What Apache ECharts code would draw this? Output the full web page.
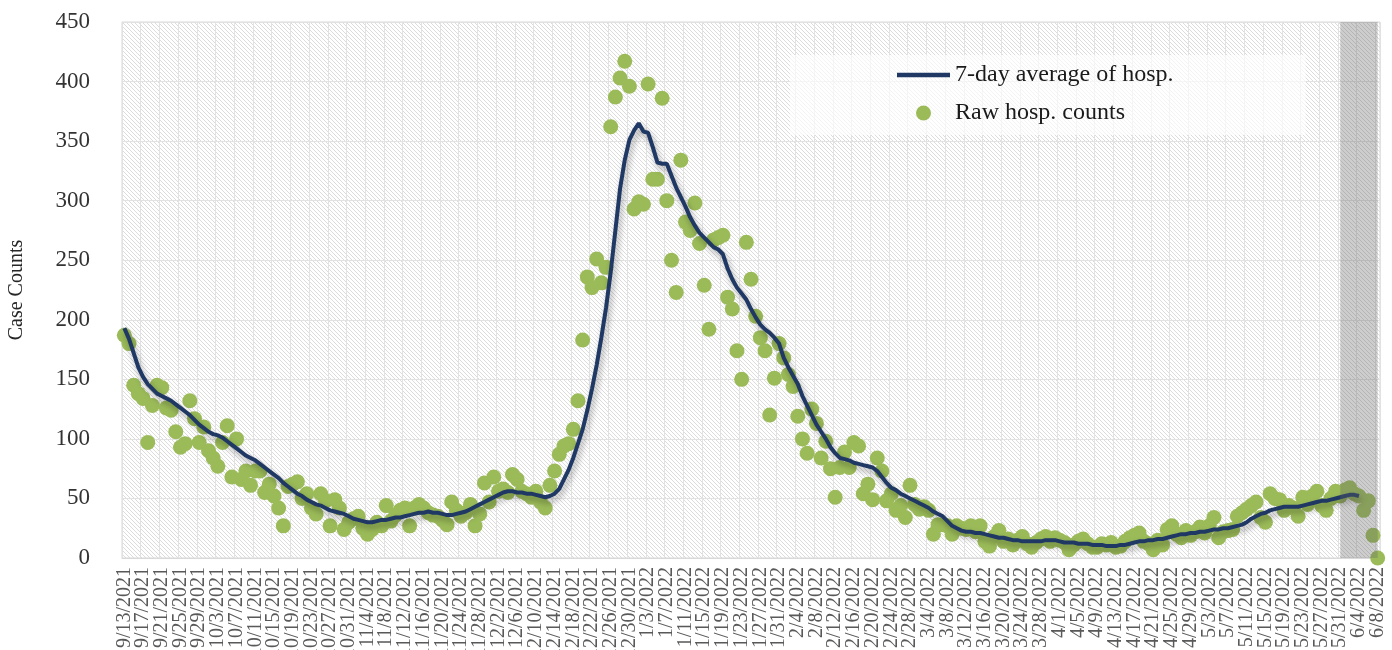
<!DOCTYPE html>
<html>
<head>
<meta charset="utf-8">
<script src="https://cdn.jsdelivr.net/npm/echarts@6/dist/echarts.min.js"></script>
<style>
  html, body { margin: 0; padding: 0; background: #fff; }
  #chart { width: 1392px; height: 650px; }
</style>
</head>
<body>
<div id="chart"></div>
<script>
// daily categories, 9/13/2021 .. 6/8/2022
const dates = [
  '9/13/2021','9/14/2021','9/15/2021','9/16/2021','9/17/2021','9/18/2021','9/19/2021','9/20/2021','9/21/2021','9/22/2021','9/23/2021','9/24/2021','9/25/2021','9/26/2021','9/27/2021','9/28/2021','9/29/2021','9/30/2021',
  '10/1/2021','10/2/2021','10/3/2021','10/4/2021','10/5/2021','10/6/2021','10/7/2021','10/8/2021','10/9/2021','10/10/2021','10/11/2021','10/12/2021','10/13/2021','10/14/2021','10/15/2021','10/16/2021','10/17/2021','10/18/2021','10/19/2021','10/20/2021','10/21/2021','10/22/2021','10/23/2021','10/24/2021','10/25/2021','10/26/2021','10/27/2021','10/28/2021','10/29/2021','10/30/2021','10/31/2021',
  '11/1/2021','11/2/2021','11/3/2021','11/4/2021','11/5/2021','11/6/2021','11/7/2021','11/8/2021','11/9/2021','11/10/2021','11/11/2021','11/12/2021','11/13/2021','11/14/2021','11/15/2021','11/16/2021','11/17/2021','11/18/2021','11/19/2021','11/20/2021','11/21/2021','11/22/2021','11/23/2021','11/24/2021','11/25/2021','11/26/2021','11/27/2021','11/28/2021','11/29/2021','11/30/2021',
  '12/1/2021','12/2/2021','12/3/2021','12/4/2021','12/5/2021','12/6/2021','12/7/2021','12/8/2021','12/9/2021','12/10/2021','12/11/2021','12/12/2021','12/13/2021','12/14/2021','12/15/2021','12/16/2021','12/17/2021','12/18/2021','12/19/2021','12/20/2021','12/21/2021','12/22/2021','12/23/2021','12/24/2021','12/25/2021','12/26/2021','12/27/2021','12/28/2021','12/29/2021','12/30/2021','12/31/2021',
  '1/1/2022','1/2/2022','1/3/2022','1/4/2022','1/5/2022','1/6/2022','1/7/2022','1/8/2022','1/9/2022','1/10/2022','1/11/2022','1/12/2022','1/13/2022','1/14/2022','1/15/2022','1/16/2022','1/17/2022','1/18/2022','1/19/2022','1/20/2022','1/21/2022','1/22/2022','1/23/2022','1/24/2022','1/25/2022','1/26/2022','1/27/2022','1/28/2022','1/29/2022','1/30/2022','1/31/2022',
  '2/1/2022','2/2/2022','2/3/2022','2/4/2022','2/5/2022','2/6/2022','2/7/2022','2/8/2022','2/9/2022','2/10/2022','2/11/2022','2/12/2022','2/13/2022','2/14/2022','2/15/2022','2/16/2022','2/17/2022','2/18/2022','2/19/2022','2/20/2022','2/21/2022','2/22/2022','2/23/2022','2/24/2022','2/25/2022','2/26/2022','2/27/2022','2/28/2022',
  '3/1/2022','3/2/2022','3/3/2022','3/4/2022','3/5/2022','3/6/2022','3/7/2022','3/8/2022','3/9/2022','3/10/2022','3/11/2022','3/12/2022','3/13/2022','3/14/2022','3/15/2022','3/16/2022','3/17/2022','3/18/2022','3/19/2022','3/20/2022','3/21/2022','3/22/2022','3/23/2022','3/24/2022','3/25/2022','3/26/2022','3/27/2022','3/28/2022','3/29/2022','3/30/2022','3/31/2022',
  '4/1/2022','4/2/2022','4/3/2022','4/4/2022','4/5/2022','4/6/2022','4/7/2022','4/8/2022','4/9/2022','4/10/2022','4/11/2022','4/12/2022','4/13/2022','4/14/2022','4/15/2022','4/16/2022','4/17/2022','4/18/2022','4/19/2022','4/20/2022','4/21/2022','4/22/2022','4/23/2022','4/24/2022','4/25/2022','4/26/2022','4/27/2022','4/28/2022','4/29/2022','4/30/2022',
  '5/1/2022','5/2/2022','5/3/2022','5/4/2022','5/5/2022','5/6/2022','5/7/2022','5/8/2022','5/9/2022','5/10/2022','5/11/2022','5/12/2022','5/13/2022','5/14/2022','5/15/2022','5/16/2022','5/17/2022','5/18/2022','5/19/2022','5/20/2022','5/21/2022','5/22/2022','5/23/2022','5/24/2022','5/25/2022','5/26/2022','5/27/2022','5/28/2022','5/29/2022','5/30/2022','5/31/2022',
  '6/1/2022','6/2/2022','6/3/2022','6/4/2022','6/5/2022','6/6/2022','6/7/2022','6/8/2022'
];

// raw daily hospitalisation counts
const rawCounts = [
  187,180,145,138,134,97,128,145,143,126,
  124,106,93,96,132,117,97,110,90,84,
  77,97,111,68,100,66,73,61,73,73,
  55,62,52,42,27,60,62,64,50,54,
  42,37,54,48,27,49,42,24,30,33,
  35,25,20,24,30,27,44,31,36,40,
  42,27,42,45,42,38,36,35,32,28,
  47,40,35,38,45,27,37,63,47,68,
  56,58,55,70,66,56,54,51,56,47,
  42,61,73,87,94,96,108,132,183,236,
  227,251,231,244,362,387,403,417,396,293,
  299,297,398,318,318,386,300,250,223,334,
  282,275,298,264,229,192,267,269,271,219,
  209,174,150,265,234,203,185,174,120,151,
  180,168,154,144,119,100,88,125,113,84,
  98,75,51,76,89,76,97,94,54,62,
  49,84,73,48,54,40,44,34,61,45,
  41,43,40,20,28,28,27,20,27,25,
  24,27,22,27,14,10,18,23,14,16,
  11,15,18,12,9,13,16,18,14,17,
  15,13,7,11,14,16,12,9,9,12,
  11,13,9,10,14,17,19,21,14,12,
  7,15,11,24,27,20,17,23,19,22,
  26,21,27,34,17,22,23,24,35,38,
  41,44,47,34,30,54,50,49,40,44,
  42,35,51,45,52,56,44,40,50,56,
  52,57,59,54,52,40,48,19,0
];

// 7-day average line
const avgCounts = [
  193,184,172,160,152,146,142,138,136,134,
  132,129,126,123,120,116,112,109,106,104,
  103,101,98,95,92,89,86,84,82,79,
  76,73,70,67,63,60,57,54,52,49,
  47,45,44,42,40,39,38,37,35,33,
  32,31,30,30,31,32,32,33,34,34,
  35,36,37,38,38,39,38,38,37,36,
  36,37,38,39,41,43,45,47,49,51,
  53,55,56,56,55,55,54,54,53,52,
  51,52,54,58,66,74,84,96,108,124,
  142,162,185,210,240,275,310,334,351,359,
  365,358,357,345,332,331,331,321,311,303,
  295,286,279,273,269,265,261,259,255,243,
  234,227,222,217,209,202,196,192,189,185,
  180,168,160,153,146,136,128,120,112,106,
  100,93,88,84,83,82,80,79,78,77,
  76,73,68,63,59,57,54,52,50,48,
  46,44,42,39,37,35,31,27,25,23,
  22,22,21,21,20,19,18,17,17,16,
  15,15,14,14,14,14,14,15,15,15,
  14,13,13,13,12,12,12,11,11,11,
  10,10,10,11,11,12,13,14,14,15,
  15,16,16,17,18,19,20,20,21,21,
  22,22,23,24,24,25,25,26,27,28,
  30,33,35,37,38,40,41,42,43,43,
  43,43,44,45,46,47,48,48,49,50,
  51,52,53,53,52,null,null,null,null
];

// grey band over the incomplete last days
const shadeStart = '5/31/2022';
const shadeEnd = '6/8/2022';

// one date label every 4 days
const labelStep = 4;

const FONT = 'Liberation Serif';

// diagonal hatch used as plot background
function hatch(base, stripe) {
  const c = document.createElement('canvas');
  c.width = 4;
  c.height = 4;
  const ctx = c.getContext('2d');
  ctx.fillStyle = base;
  ctx.fillRect(0, 0, 4, 4);
  ctx.fillStyle = stripe;
  for (let i = 0; i < 4; i++) ctx.fillRect(i, i, 1, 1);
  return c;
}

const chart = echarts.init(document.getElementById('chart'));

const option = {
  animation: false,
  backgroundColor: '#fff',
  grid: {
    left: 122,
    right: 12,
    top: 22,
    bottom: 92,
    containLabel: false,
    outerBoundsMode: 'none',
    show: true,
    backgroundColor: { image: hatch('#ffffff', '#dcdcdc'), repeat: 'repeat' },
    borderColor: '#d9d9d9',
    borderWidth: 1
  },
  legend: {
    orient: 'vertical',
    left: 790,
    top: 55,
    padding: [8, 132, 10, 107],
    itemWidth: 53,
    itemHeight: 15,
    itemGap: 14,
    backgroundColor: 'rgba(255,255,255,0.65)',
    textStyle: { fontFamily: FONT, fontSize: 24, color: '#1a1a1a' },
    data: [
      { name: '7-day average of hosp.', icon: 'path://M0,0L53,0L53,4.5L0,4.5Z' },
      { name: 'Raw hosp. counts', icon: 'circle' }
    ]
  },
  xAxis: {
    type: 'category',
    data: dates,
    boundaryGap: true,
    axisLine: { lineStyle: { color: '#d9d9d9' } },
    axisTick: { show: false },
    axisLabel: {
      interval: 0,
      rotate: 90,
      margin: 9,
      hideOverlap: false,
      fontFamily: FONT,
      fontSize: 20,
      color: '#595959',
      formatter: (value, index) => (index % labelStep === 0 ? value : '')
    },
    splitLine: { show: true, interval: labelStep - 1, lineStyle: { color: '#e2e2e2', width: 1 } }
  },
  yAxis: {
    type: 'value',
    min: 0,
    max: 450,
    interval: 50,
    name: 'Case Counts',
    nameLocation: 'middle',
    nameGap: 95,
    nameTextStyle: { fontFamily: FONT, fontSize: 20, color: '#262626' },
    axisLine: { show: false },
    axisTick: { show: false },
    axisLabel: { margin: 32, fontFamily: FONT, fontSize: 23, color: '#333' },
    splitLine: { lineStyle: { color: '#e2e2e2', width: 1 } }
  },
  series: [
    {
      name: '7-day average of hosp.',
      type: 'line',
      data: avgCounts,
      symbol: 'none',
      itemStyle: { color: '#1F3864' },
      lineStyle: {
        color: '#1F3864',
        width: 4,
        shadowColor: 'rgba(0,0,0,0.35)',
        shadowBlur: 6,
        shadowOffsetX: 2,
        shadowOffsetY: 4
      }
    },
    {
      name: 'Raw hosp. counts',
      type: 'scatter',
      data: rawCounts,
      symbolSize: 15,
      itemStyle: { color: '#9BBB59', opacity: 1 },
      markArea: {
        silent: true,
        z: 10,
        itemStyle: { color: 'rgba(100,100,100,0.32)' },
        data: [[{ xAxis: shadeStart }, { xAxis: shadeEnd }]]
      }
    }
  ]
};

chart.setOption(option);
</script>
</body>
</html>
